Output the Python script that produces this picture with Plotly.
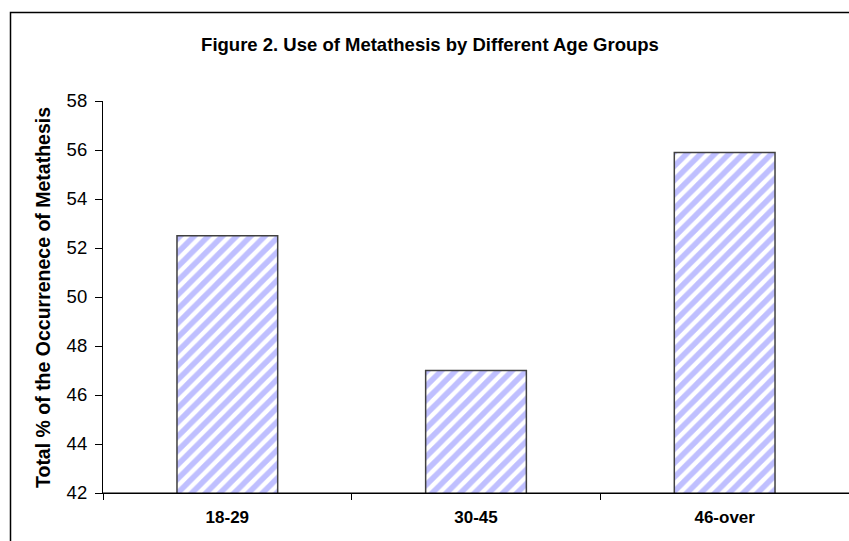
import plotly.graph_objects as go

categories = ["18-29", "30-45", "46-over"]
values = [52.5, 47.0, 55.9]
y_ticks = [42, 44, 46, 48, 50, 52, 54, 56, 58]

FONT = "Liberation Sans, Arial, sans-serif"

L, T, B = 103, 101, 48
PW, PH = 849 - L, 541 - T - B

fig = go.Figure(
    go.Bar(
        x=categories,
        y=values,
        width=0.405,
        marker=dict(
            color="white",
            line=dict(color="#404040", width=1.5),
            pattern=dict(shape="/", fgcolor="#8080FF", bgcolor="white", size=10, solidity=0.55),
        ),
    )
)

fig.update_layout(
    width=849,
    height=541,
    paper_bgcolor="white",
    plot_bgcolor="white",
    margin=dict(l=L, r=0, t=T, b=B),
    showlegend=False,
    title=dict(
        text="<b>Figure 2. Use of Metathesis by Different Age Groups</b>",
        x=(430) / 849, xanchor="center", y=1 - 45 / 541, yanchor="middle",
        font=dict(family=FONT, size=18.5, color="black"),
    ),
    font=dict(family=FONT, color="black"),
    shapes=[
        dict(type="rect", xref="paper", yref="paper",
             x0=(10.5 - L) / PW, x1=1.05, y0=-0.3, y1=(493 - 12.5) / PH,
             line=dict(color="black", width=1.5), fillcolor="rgba(0,0,0,0)", layer="below"),
        dict(type="line", xref="paper", yref="paper",
             x0=0, x1=1.05, y0=0, y1=0,
             line=dict(color="black", width=1.2), layer="above"),
    ],
    annotations=[
        dict(text="<b>Total % of the Occurrenece of Metathesis</b>",
             xref="paper", yref="paper", x=(43 - L) / PW, y=(493 - 298) / PH,
             xanchor="center", yanchor="middle", textangle=-90, showarrow=False,
             font=dict(family=FONT, size=19.5, color="black")),
    ],
)

fig.update_xaxes(
    type="category", automargin=False,
    showline=True, linecolor="black", linewidth=1.2,
    ticks="outside", tickson="boundaries", ticklen=6, tickcolor="black",
    tickfont=dict(family=FONT, size=17, color="black", weight="bold"),
    ticklabelstandoff=8,
    showgrid=False, zeroline=False,
)
fig.update_yaxes(
    range=[42, 58], automargin=False,
    tickvals=y_ticks,
    showline=True, linecolor="black", linewidth=1.2,
    ticks="outside", ticklen=7, tickcolor="black",
    tickfont=dict(family=FONT, size=18.5, color="black"),
    ticklabelstandoff=4,
    showgrid=False, zeroline=False,
)

fig.write_html(
    "out.html",
    config={"displayModeBar": False},
    post_script="document.body.style.margin='0';document.body.style.overflow='hidden';",
)
